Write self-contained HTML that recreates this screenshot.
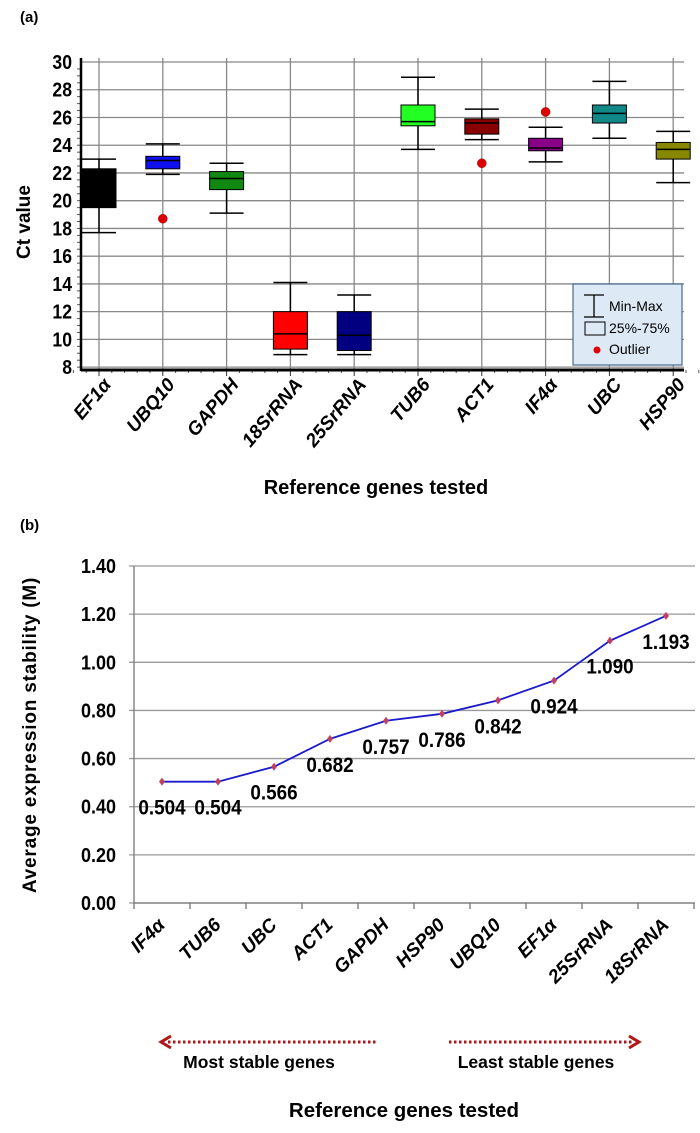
<!DOCTYPE html>
<html><head><meta charset="utf-8"><style>
body{margin:0;background:#fff;}
svg{display:block;font-family:"Liberation Sans",Arial,sans-serif;}
</style></head><body>
<svg width="700" height="1133" viewBox="0 0 700 1133">
<text x="20" y="22" font-size="15" font-weight="bold">(a)</text>
<g id="chartA"></g>
<text x="20" y="530" font-size="15" font-weight="bold">(b)</text>
<g id="chartB"></g>
</svg>
<script>
const genesA = ["EF1α","UBQ10","GAPDH","18SrRNA","25SrRNA","TUB6","ACT1","IF4α","UBC","HSP90"];
const minA = [17.7,21.9,19.1,8.9,8.9,23.7,24.4,22.8,24.5,21.3];
const maxA = [23.0,24.1,22.7,14.1,13.2,28.9,26.6,25.3,28.6,25.0];
const q1A = [19.5,22.3,20.8,9.3,9.2,25.4,24.8,23.6,25.6,23.0];
const q3A = [22.3,23.2,22.1,12.0,12.0,26.9,25.9,24.5,26.9,24.2];
const medA = [null,22.9,21.6,10.4,10.3,25.7,25.6,23.8,26.3,23.7];
const outA = [null,18.7,null,null,null,null,22.7,26.4,null,null];
const colorsA = ["#000000","#1010ee","#118811","#ff0000","#000080","#22ff22","#880000","#880088","#118888","#888800"];
const ticksA = [8,10,12,14,16,18,20,22,24,26,28,30];

const genesB = ["IF4α","TUB6","UBC","ACT1","GAPDH","HSP90","UBQ10","EF1α","25SrRNA","18SrRNA"];
const valuesB = [0.504,0.504,0.566,0.682,0.757,0.786,0.842,0.924,1.090,1.193];
const labelsB = ["0.504","0.504","0.566","0.682","0.757","0.786","0.842","0.924","1.090","1.193"];
const ticksB = ["0.00","0.20","0.40","0.60","0.80","1.00","1.20","1.40"];

const NS="http://www.w3.org/2000/svg";
function mk(parent,tag,attrs,text){const e=document.createElementNS(NS,tag);for(const k in attrs)e.setAttribute(k,attrs[k]);if(text!==undefined)e.textContent=text;parent.appendChild(e);return e;}

// Chart A
const A=document.getElementById('chartA');
const ax0=81, ax1=684, ayTop=58;
const yA=v=>62+(30-v)*13.87;
const xA=i=>99+i*63.8;
ticksA.forEach(t=>{
  const g=mk(A,'line',{x1:ax0,x2:ax1,y1:yA(t),y2:yA(t),stroke:'#888','stroke-width':1.3});
  
  
  const l=mk(A,'text',{x:72,y:yA(t)+7,'font-size':20,'font-weight':'bold','text-anchor':'end',transform:`translate(72,0) scale(0.88,1) translate(-72,0)`},String(t));
  
  
});
for(let v=8;v<30;v+=0.5){mk(A,'line',{x1:ax0-4,x2:ax0,y1:yA(v),y2:yA(v),stroke:'#555','stroke-width':1});}
genesA.forEach((g,i)=>{
  const gl=mk(A,'line',{x1:xA(i),x2:xA(i),y1:ayTop,y2:370,stroke:'#888','stroke-width':1.3});
  
  
});
genesA.forEach((g,i)=>{
  const x=xA(i), w=34;
  mk(A,'line',{x1:x,x2:x,y1:yA(maxA[i]),y2:yA(minA[i]),stroke:'#000','stroke-width':1.5});
  [minA[i],maxA[i]].forEach(v=>{const c=mk(A,'line',{x1:x-17,x2:x+17,y1:yA(v),y2:yA(v),stroke:'#000','stroke-width':1.5});
    
    });
  const b=mk(A,'rect',{x:x-w/2,y:yA(q3A[i]),width:w,height:yA(q1A[i])-yA(q3A[i]),fill:colorsA[i],stroke:'#000','stroke-width':1});
  
  
  if(medA[i]!==null){const m=mk(A,'line',{x1:x-w/2,x2:x+w/2,y1:yA(medA[i]),y2:yA(medA[i]),stroke:'#000','stroke-width':1.5});
    
    }
  if(outA[i]!==null){const o=mk(A,'circle',{cx:x,cy:yA(outA[i]),r:4.5,fill:'#dd0000',stroke:'#900','stroke-width':0.5});
    
    }
  const t=mk(A,'text',{x:0,y:0,'font-size':19,'font-weight':'bold','font-style':'italic','text-anchor':'end',transform:`translate(${x+13},${385}) rotate(-50)`},g);
  
  
  for(let k=-2;k<=2;k++){if(k!==0)mk(A,'line',{x1:x+k*12.8,x2:x+k*12.8,y1:370,y2:373,stroke:'#555','stroke-width':1});}
  mk(A,'line',{x1:x,x2:x,y1:370,y2:376,stroke:'#333','stroke-width':1});
});
mk(A,'line',{x1:ax0,x2:ax0,y1:ayTop,y2:371,stroke:'#000','stroke-width':2.5});
mk(A,'line',{x1:ax0,x2:ax1,y1:370,y2:370,stroke:'#000','stroke-width':3});
const yt=mk(A,'text',{x:0,y:0,'font-size':19,'font-weight':'bold','text-anchor':'middle',transform:'translate(30,222) rotate(-90)'},'Ct value');


const xt=mk(A,'text',{x:376,y:494,'font-size':20,'font-weight':'bold','text-anchor':'middle'},'Reference genes tested');


// legend
const L=mk(A,'g',{});


mk(L,'rect',{x:573,y:284,width:109,height:81,fill:'#dde9f5',stroke:'#4a6a8a','stroke-width':1.2});
mk(L,'line',{x1:584,x2:604,y1:295,y2:295,stroke:'#000','stroke-width':1.3});
mk(L,'line',{x1:584,x2:604,y1:317,y2:317,stroke:'#000','stroke-width':1.3});
mk(L,'line',{x1:594,x2:594,y1:295,y2:317,stroke:'#000','stroke-width':1.3});
mk(L,'rect',{x:585,y:322,width:20,height:13,fill:'none',stroke:'#000','stroke-width':1});
mk(L,'circle',{cx:597,cy:350,r:3.5,fill:'#dd0000'});
mk(L,'text',{x:609,y:311,'font-size':14},'Min-Max');
mk(L,'text',{x:609,y:333,'font-size':14},'25%-75%');
mk(L,'text',{x:609,y:354,'font-size':14},'Outlier');

// Chart B
const B=document.getElementById('chartB');
const bx0=134, bx1=695;
const yB=v=>903-v*240.7;
const xB=i=>162+i*56;
ticksB.forEach(t=>{
  const v=parseFloat(t);
  const gl=mk(B,'line',{x1:bx0-5,x2:bx1,y1:yB(v),y2:yB(v),stroke:'#999','stroke-width':1.3});
  
  
  const l=mk(B,'text',{x:116,y:yB(v)+7,'font-size':20,'font-weight':'bold','text-anchor':'end',transform:`translate(116,0) scale(0.9,1) translate(-116,0)`},t);
  
  
});
mk(B,'line',{x1:bx0,x2:bx0,y1:yB(1.4),y2:903,stroke:'#777','stroke-width':1.3});
mk(B,'line',{x1:bx0,x2:bx1,y1:903,y2:903,stroke:'#777','stroke-width':1.3});
for(let k=0;k<=10;k++){mk(B,'line',{x1:bx0+k*56,x2:bx0+k*56,y1:903,y2:909,stroke:'#777','stroke-width':1.3});}
const pts=valuesB.map((v,i)=>xB(i)+','+yB(v)).join(' ');
const pl=mk(B,'polyline',{points:pts,fill:'none',stroke:'#1a1acc','stroke-width':1.8});


valuesB.forEach((v,i)=>{
  const x=xB(i), y=yB(v);
  const p=mk(B,'path',{d:`M${x},${y-4} L${x+3},${y} L${x},${y+4} L${x-3},${y} Z`,fill:'#c04060'});
  
  
  const dl=mk(B,'text',{x:x,y:y+33,'font-size':21,'font-weight':'bold','text-anchor':'middle',transform:`translate(${x},0) scale(0.9,1) translate(${-x},0)`},labelsB[i]);
  
  
  const t=mk(B,'text',{x:0,y:0,'font-size':19,'font-weight':'bold','font-style':'italic','text-anchor':'end',transform:`translate(${x+4},${926}) rotate(-45)`},genesB[i]);
  
  
});
const yt2=mk(B,'text',{x:0,y:0,'font-size':19,'font-weight':'bold','text-anchor':'middle','letter-spacing':'0.8',transform:'translate(36,735) rotate(-90)'},'Average expression stability (M)');


// arrows
const ar1=mk(B,'line',{x1:168,x2:377,y1:1042,y2:1042,stroke:'#b01818','stroke-width':3,'stroke-dasharray':'2.5,2.5'});


mk(B,'path',{d:'M171,1036 L161,1042 L171,1048',fill:'none',stroke:'#b01818','stroke-width':3});
const ar2=mk(B,'line',{x1:449,x2:633,y1:1042,y2:1042,stroke:'#b01818','stroke-width':3,'stroke-dasharray':'2.5,2.5'});


mk(B,'path',{d:'M629,1036 L639,1042 L629,1048',fill:'none',stroke:'#b01818','stroke-width':3});
const m1=mk(B,'text',{x:259,y:1068,'font-size':17.5,'font-weight':'bold','text-anchor':'middle'},'Most stable genes');


const m2=mk(B,'text',{x:536,y:1068,'font-size':17.5,'font-weight':'bold','text-anchor':'middle'},'Least stable genes');


const xt2=mk(B,'text',{x:404,y:1117,'font-size':20.5,'font-weight':'bold','text-anchor':'middle'},'Reference genes tested');


</script>
</body></html>
